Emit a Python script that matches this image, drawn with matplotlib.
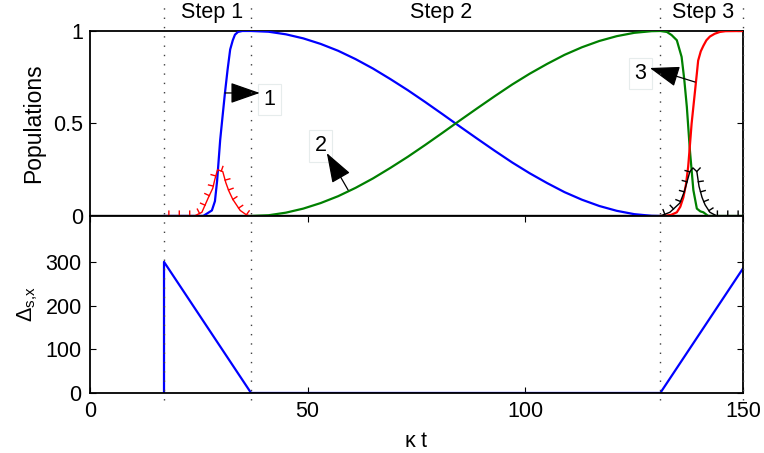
import matplotlib
matplotlib.use('Agg')
import matplotlib.pyplot as plt
import matplotlib.patheffects as pe
from matplotlib.lines import Line2D
from matplotlib.transforms import blended_transform_factory

plt.rcParams['font.family'] = ['Liberation Sans', 'DejaVu Sans']
plt.rcParams['mathtext.fontset'] = 'custom'
plt.rcParams['mathtext.rm'] = 'Liberation Sans'
plt.rcParams['font.size'] = 15.5

# population 1 (blue)
t_pop1 = [17, 26, 28, 28.7, 29.2, 29.9, 30.5, 31.0, 31.6, 32.2, 32.8, 33.3, 34,
          35, 37, 41, 45, 49, 53, 57, 61, 65, 69, 73, 77, 81, 85, 89, 93, 97,
          101, 105, 109, 113, 117, 121, 125, 129, 131]
pop1 = [0, 0, 0.03, 0.08, 0.19, 0.41, 0.55, 0.665, 0.79, 0.9, 0.95, 0.98,
        0.995, 1.0, 1.0, 0.996, 0.982, 0.960, 0.930, 0.893, 0.848, 0.797,
        0.740, 0.680, 0.616, 0.550, 0.483, 0.417, 0.352, 0.289, 0.231, 0.178,
        0.129, 0.088, 0.054, 0.028, 0.010, 0.001, 0]

# population 2 (green)
t_pop2 = [37, 41, 45, 49, 53, 57, 61, 65, 69, 73, 77, 81, 85, 89, 93, 97, 101,
          105, 109, 113, 117, 121, 125, 129, 131, 132.5, 133.6, 134.8, 135.9,
          136.5, 137.1, 137.8, 138.6, 139.4, 140.2, 140.9, 142, 150]
pop2 = [0, 0.004, 0.018, 0.040, 0.070, 0.107, 0.152, 0.203, 0.260, 0.320,
        0.384, 0.450, 0.517, 0.583, 0.648, 0.711, 0.769, 0.822, 0.871, 0.912,
        0.946, 0.972, 0.990, 0.999, 1.0, 0.995, 0.978, 0.95, 0.86, 0.74, 0.59,
        0.356, 0.14, 0.04, 0.025, 0.02, 0, 0]

# population 3 (red)
t_pop3 = [131, 131.7, 133.5, 134.8, 135.6, 136.3, 136.9, 137.4, 137.8, 138.2,
          138.6, 139, 139.4, 139.7, 140.3, 140.9, 141.6, 142.4, 143.5, 144.7,
          146, 150]
pop3 = [0, 0, 0.006, 0.02, 0.05, 0.10, 0.17, 0.265, 0.38, 0.5, 0.59, 0.68,
        0.77, 0.84, 0.89, 0.92, 0.95, 0.97, 0.985, 0.995, 0.999, 1.0]

# transient populations (ticked lines)
t_leak1 = [17, 24, 25.7, 27.2, 28.2, 28.7, 29.3, 30.5, 31.2, 31.9, 32.8, 34.5,
           36, 37]
leak1 = [0, 0, 0.02, 0.1, 0.15, 0.2, 0.25, 0.24, 0.18, 0.135, 0.09, 0.03,
         0.005, 0]
t_leak2 = [131, 133.2, 135.5, 136.5, 137.8, 138.5, 139.4, 139.9, 140.6, 141.3,
           142.4, 144, 150]
leak2 = [0, 0.02, 0.07, 0.13, 0.24, 0.26, 0.24, 0.16, 0.1, 0.06, 0.02, 0, 0]

# detuning
t_delta = [17, 17, 37, 131, 150]
delta = [0, 300, 0, 0, 285]

step_edges = [17, 37, 131, 150]
step_names = ['Step 1', 'Step 2', 'Step 3']
step_label_t = [28, 80.6, 140.8]

fig = plt.figure(figsize=(7.64, 4.53), dpi=100)
ax1 = fig.add_axes([0.1178, 0.5232, 0.8547, 0.4084])
ax2 = fig.add_axes([0.1178, 0.1325, 0.8547, 0.3907])

ax1.plot([0, 150], [0, 0], color='k', lw=2.4, zorder=2)
ax1.plot(t_pop1, pop1, color='#0000ff', lw=1.6, zorder=3)
ax1.plot(t_pop2, pop2, color='#008000', lw=1.6, zorder=3)
ax1.plot(t_pop3, pop3, color='#ff0000', lw=1.6, zorder=3)
ax1.plot(t_leak1, leak1, color='#ff0000', lw=1.0, zorder=4,
         path_effects=[pe.withTickedStroke(angle=90, spacing=7, length=0.5)])
ax1.plot(t_leak2, leak2, color='k', lw=1.0, zorder=4,
         path_effects=[pe.withTickedStroke(angle=90, spacing=7, length=0.5)])

ax1.set_xlim(0, 150)
ax1.set_ylim(0, 1)
ax1.set_yticks([0, 0.5, 1])
ax1.set_yticklabels(['0', '0.5', '1'])
ax1.set_xticks([])
ax1.tick_params(direction='in', right=True, length=4, width=0.8, pad=5)
ax1.set_ylabel('Populations', fontsize=16.5, labelpad=6)

# annotations
box = dict(boxstyle='square,pad=0.25', fc='white', ec='#e6ecec', lw=0.8)
arrows = [((31.0, 0.665), (39.0, 0.665), '1', (41.3, 0.63)),
          ((59.3, 0.14), (54.4, 0.34), '2', (53.0, 0.38)),
          ((139.0, 0.724), (128.6, 0.80), '3', (126.4, 0.77))]
for tail, head, lab, pos in arrows:
    ax1.text(pos[0], pos[1], lab, ha='center', va='center', bbox=box, zorder=5)
    ax1.annotate('', xy=head, xytext=tail,
                 arrowprops=dict(arrowstyle='-|>,head_length=1.2,head_width=0.42',
                                 color='k', lw=0.9, shrinkA=0, shrinkB=0),
                 zorder=6)

ax2.plot(t_delta, delta, color='#0000ff', lw=1.6)
ax2.set_xlim(0, 150)
ax2.set_ylim(0, 405)
ax2.set_yticks([0, 100, 200, 300])
ax2.set_xticks([0, 50, 100, 150])
ax2.tick_params(direction='in', right=True, top=True, length=4, width=0.8, pad=6)
ax2.set_xlabel(r'$\mathregular{\kappa}$ t', labelpad=6)
ax2.set_ylabel(r'$\mathregular{\Delta_{s{,}x}}$', labelpad=4)

for ax in (ax1, ax2):
    for s in ax.spines.values():
        s.set_linewidth(1.3)

# dotted step markers across both panels
trans = blended_transform_factory(ax1.transData, fig.transFigure)
for x in step_edges:
    fig.add_artist(Line2D([x, x], [0.118, 0.997], transform=trans,
                          color='0.25', lw=1.0, linestyle=(0, (1, 5.7)),
                          zorder=1))
for x, name in zip(step_label_t, step_names):
    fig.text(x, 0.972, name, transform=trans, ha='center', va='center')

fig.savefig('out.png', dpi=100)
